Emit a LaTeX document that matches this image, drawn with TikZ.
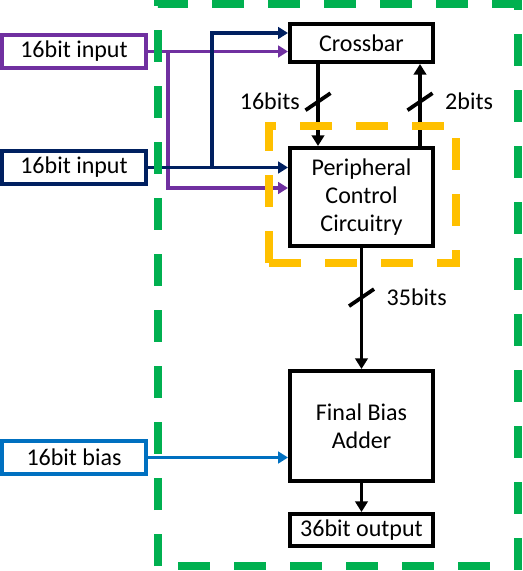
\documentclass[tikz,border=0pt]{standalone}
\usepackage{fontspec}
\setmainfont{Carlito}
\usepackage{tikz}
\usetikzlibrary{
    arrows.meta,
    positioning,
    calc
}
\definecolor{dpurple}{HTML}{7030A0}
\definecolor{dnavy}{HTML}{002060}
\definecolor{dblue}{HTML}{0070C0}
\definecolor{dgreen}{HTML}{00B050}
\definecolor{dyellow}{HTML}{FFC000}

\begin{document}
\begin{tikzpicture}[
    x=0.03cm, y=-0.03cm,
    every node/.style={font=\fontsize{20.5pt}{24.2pt}\selectfont},
    blk/.style={rectangle, draw=black, line width=3.4pt, minimum width=4.29cm, inner sep=0pt, align=center},
    inbox/.style={rectangle, draw=#1, line width=3.4pt, minimum width=4.32cm, minimum height=1.0cm, inner sep=0pt},
    wire/.style={draw=#1, line width=2.8pt, -{Triangle[length=8.5pt, width=10pt]}},
    wire/.default=black,
    bwire/.style={line width=3.4pt, -{Triangle[length=9pt, width=10.5pt]}},
    slashmark/.style={line width=3.2pt},
    lbl/.style={inner sep=0pt},
    region/.style={draw=#1, line width=6pt, dash pattern=on 0.96cm off 0.72cm},
]
    \useasboundingbox (0,0) rectangle (522,571);

    % Main blocks
    \node[blk, minimum height=1.14cm] (xb) at (361.5, 43) {Crossbar};
    \node[blk, minimum height=2.94cm] (pcc) at (361.5, 197) {Peripheral\\Control\\Circuitry};
    \node[blk, minimum height=3.3cm] (fba) at (361.5, 426) {Final Bias\\Adder};
    \node[blk, minimum height=0.96cm] (out) at (361.5, 530) {36bit output};

    % Inputs
    \node[inbox=dpurple] (in1) at (74, 51.5) {16bit input};
    \node[inbox=dnavy] (in2) at (74, 167.5) {16bit input};
    \node[inbox=dblue] (bias) at (74, 457.5) {16bit bias};

    % Input wires
    \draw[wire=dpurple] (in1.east) -- (in1.east -| xb.west);
    \draw[wire=dpurple] (in1.east) -- ++(0.6cm,0) |- ([yshift=0.27cm]pcc.west);
    \draw[wire=dnavy] (in2.east) -- (in2.east -| pcc.west);
    \coordinate (nb) at ($(in2.east)+(64,0)$);
    \draw[wire=dnavy] (nb) |- ([yshift=0.3cm]xb.west);
    \draw[wire=dblue] (bias.east) -- (bias.east -| fba.west);

    % Bus wires
    \draw[bwire] ([xshift=-1.305cm]xb.south) -- coordinate[pos=0.46] (m16) ([xshift=-1.305cm]pcc.north);
    \draw[bwire] ([xshift=1.755cm]pcc.north) -- coordinate[pos=0.54] (m2) ([xshift=1.755cm]xb.south);
    \draw[bwire] (pcc.south) -- coordinate[pos=0.41] (m35) (fba.north);
    \draw[bwire] (fba.south) -- (out.north);

    % Bus width marks
    \foreach \m in {m16, m2, m35}
        \draw[slashmark] ($(\m)+(-12.5,8.5)$) -- ($(\m)+(12.5,-8.5)$);
    \node[lbl, left=0.54cm of m16] {16bits};
    \node[lbl, right=0.75cm of m2] {2bits};
    \node[lbl, right=0.75cm of m35] {35bits};

    % Dashed regions
    \draw[region=dyellow] (269,263) -- (269,126) -- (456,126) -- (456,263) -- cycle;
    \draw[region=dgreen] (158,566) -- (158,4) -- (518,4) -- (518,566) -- cycle;

\end{tikzpicture}
\end{document}
